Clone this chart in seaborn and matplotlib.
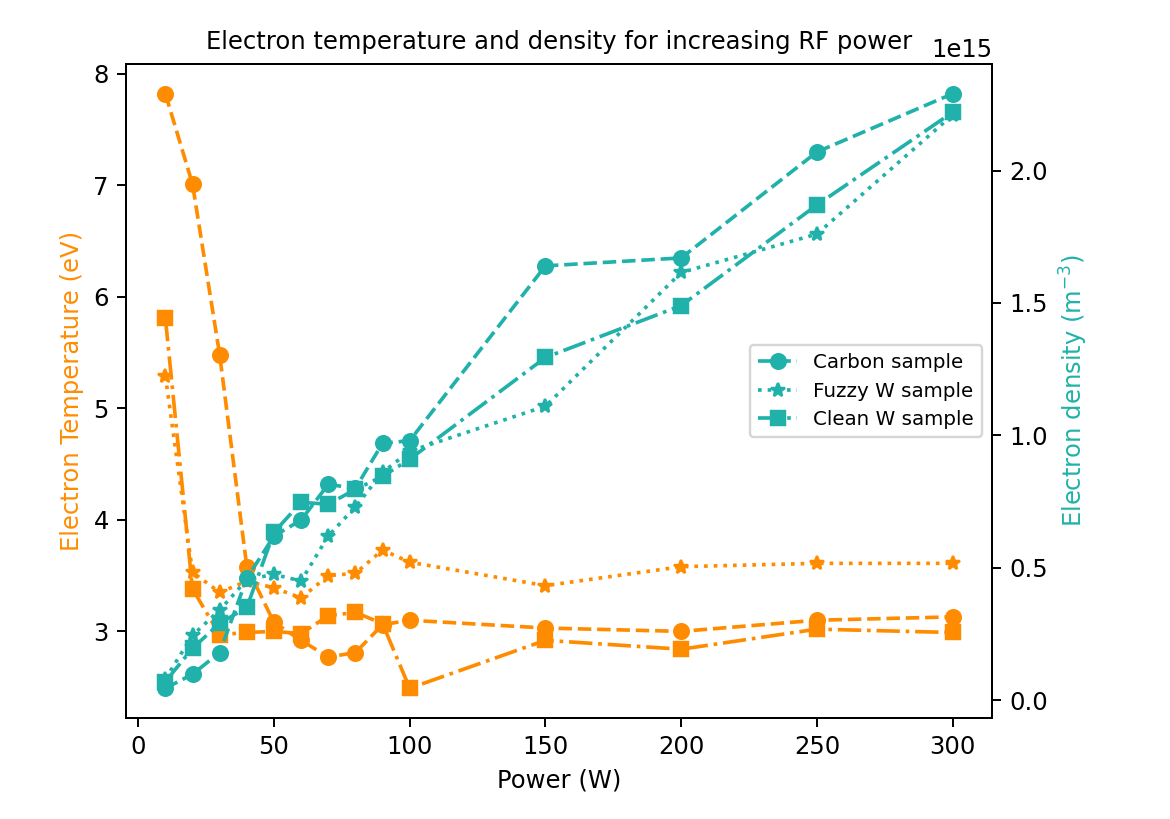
import matplotlib
matplotlib.use("Agg")
import matplotlib.pyplot as plt
import seaborn as sns
import numpy as np

power = [10, 20, 30, 40, 50, 60, 70, 80, 90, 100, 150, 200, 250, 300]

# Electron temperature (eV)
te_carbon = [7.82, 7.01, 5.48, 3.58, 3.08, 2.92, 2.77, 2.81, 3.06, 3.10, 3.03, 3.00, 3.10, 3.13]
te_fuzzy = [5.29, 3.53, 3.35, 3.45, 3.39, 3.30, 3.50, 3.52, 3.73, 3.62, 3.41, 3.58, 3.61, 3.61]
te_clean = [5.81, 3.38, 2.97, 2.99, 3.00, 2.98, 3.14, 3.17, 3.07, 2.49, 2.92, 2.84, 3.02, 2.99]

# Electron density (1e15 m^-3)
ne_carbon = [0.045, 0.098, 0.18, 0.46, 0.62, 0.68, 0.815, 0.80, 0.97, 0.98, 1.64, 1.67, 2.07, 2.29]
ne_fuzzy = [0.08, 0.245, 0.34, 0.455, 0.475, 0.45, 0.62, 0.73, 0.86, 0.94, 1.11, 1.615, 1.76, 2.21]
ne_clean = [0.07, 0.196, 0.29, 0.35, 0.634, 0.747, 0.74, 0.796, 0.845, 0.91, 1.294, 1.49, 1.87, 2.22]

labels = ["Carbon sample", "Fuzzy W sample", "Clean W sample"]
markers = ["o", "*", "s"]
styles = ["--", ":", "-."]

orange = "darkorange"
teal = "lightseagreen"

fig = plt.figure(figsize=(1170 / 175, 819 / 175), dpi=175)
ax = fig.add_axes([126 / 1170, 1 - 718 / 819, (992 - 126) / 1170, (718 - 64) / 819])
ax2 = ax.twinx()

for y, lab, m, ls in zip([te_carbon, te_fuzzy, te_clean], labels, markers, styles):
    sns.lineplot(x=power, y=y, ax=ax, color=orange, marker=m, linestyle=ls,
                 markeredgecolor=orange, markeredgewidth=1, markersize=6,
                 legend=False, linewidth=1.5)

for y, lab, m, ls in zip([ne_carbon, ne_fuzzy, ne_clean], labels, markers, styles):
    sns.lineplot(x=power, y=np.array(y) * 1e15, ax=ax2, color=teal, marker=m, linestyle=ls,
                 markeredgecolor=teal, markeredgewidth=1, markersize=6,
                 label=lab, linewidth=1.5)

ax.set_xlabel("Power (W)")
ax.set_ylabel("Electron Temperature (eV)", color=orange)
ax2.set_ylabel("Electron density (m$^{-3}$)", color=teal)
ax.set_title("Electron temperature and density for increasing RF power", fontsize=10, y=1.0)
ax.set_xticks([0, 50, 100, 150, 200, 250, 300])

ax2.legend(loc="center right", fontsize=8.2)

fig.savefig("out.png", dpi=175)
